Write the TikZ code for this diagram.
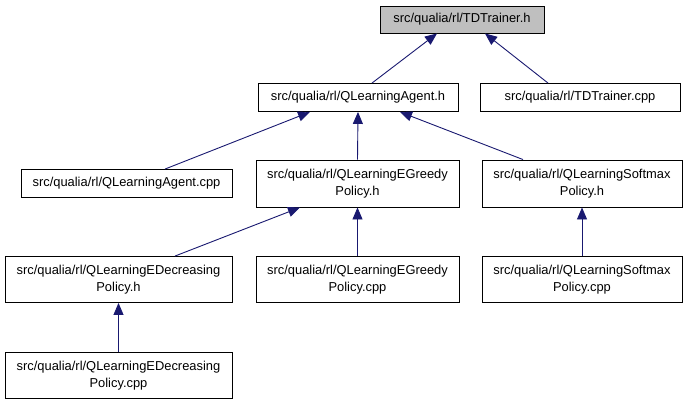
\documentclass[tikz,border=0pt]{standalone}
\usepackage{fontspec}
\setmainfont{Liberation Sans}
\usetikzlibrary{arrows.meta}
\definecolor{edgeblue}{HTML}{191970}
\definecolor{rootgray}{HTML}{BFBFBF}
\begin{document}
\begin{tikzpicture}[x=1pt,y=-1pt,
  box/.style={draw=black,line width=0.9pt,fill=white,inner sep=0pt,align=center,
    font=\fontsize{12.9}{16.5}\selectfont},
  edge/.style={draw=edgeblue,line width=0.9pt,
    {Triangle[length=12pt,width=10pt,fill=edgeblue]}-}]
\useasboundingbox (0,0) rectangle (688,405);
\node[box,fill=rootgray,minimum width=164pt,minimum height=27pt] (td) at (462,19.5) {src/qualia/rl/TDTrainer.h};
\node[box,minimum width=200pt,minimum height=28pt] (qa) at (358,97.5) {src/qualia/rl/QLearningAgent.h};
\node[box,minimum width=200pt,minimum height=28pt] (tdc) at (580,97.5) {src/qualia/rl/TDTrainer.cpp};
\node[box,minimum width=211pt,minimum height=28pt] (qac) at (126.5,183.5) {src/qualia/rl/QLearningAgent.cpp};
\node[box,minimum width=203pt,minimum height=47pt] (egh) at (357.5,183.5) {src/qualia/rl/QLearningEGreedy\\Policy.h};
\node[box,minimum width=200pt,minimum height=47pt] (smh) at (582,183.5) {src/qualia/rl/QLearningSoftmax\\Policy.h};
\node[box,minimum width=227pt,minimum height=46pt] (edh) at (118.5,279.5) {src/qualia/rl/QLearningEDecreasing\\Policy.h};
\node[box,minimum width=203pt,minimum height=46pt] (egc) at (357.5,279.5) {src/qualia/rl/QLearningEGreedy\\Policy.cpp};
\node[box,minimum width=200pt,minimum height=46pt] (smc) at (582,279.5) {src/qualia/rl/QLearningSoftmax\\Policy.cpp};
\node[box,minimum width=227pt,minimum height=46pt] (edc) at (118.5,375.5) {src/qualia/rl/QLearningEDecreasing\\Policy.cpp};
\draw[edge] ([xshift=-25pt]td.south) -- ([xshift=14pt]qa.north);
\draw[edge] ([xshift=23pt]td.south) -- ([xshift=-32pt]tdc.north);
\draw[edge] ([xshift=-48pt]qa.south) -- ([xshift=38.5pt]qac.north);
\draw[edge] (qa.south) -- (egh.north);
\draw[edge] ([xshift=42pt]qa.south) -- ([xshift=-59pt]smh.north);
\draw[edge] ([xshift=-57.5pt]egh.south) -- ([xshift=56.5pt]edh.north);
\draw[edge] (egh.south) -- (egc.north);
\draw[edge] (smh.south) -- (smc.north);
\draw[edge] (edh.south) -- (edc.north);
\end{tikzpicture}
\end{document}
